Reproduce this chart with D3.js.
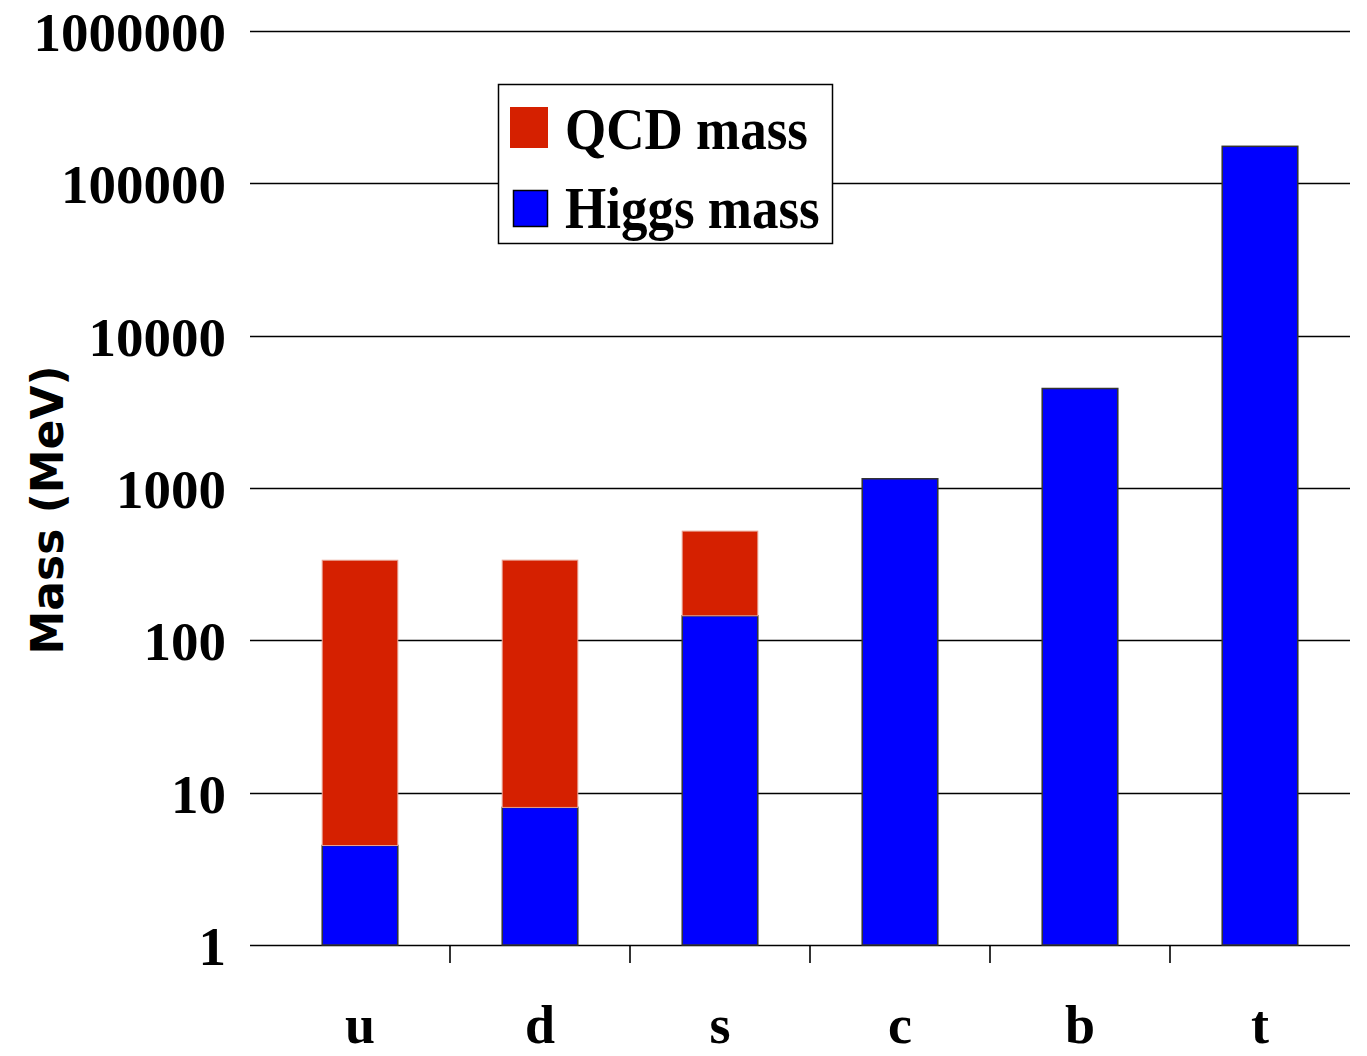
<!DOCTYPE html>
<html><head><meta charset="utf-8">
<script src="https://cdn.jsdelivr.net/npm/d3@7"></script>
<style>html,body{margin:0;padding:0;background:#fff}</style>
</head><body>
<script>
const categories = ["u","d","s","c","b","t"];
const higgsMass = [4.5, 8, 145, 1150, 4500, 175000];
const qcdMass = [331, 328, 376, 0, 0, 0];
const yTicks = [1, 10, 100, 1000, 10000, 100000, 1000000];
const seriesNames = ["QCD mass", "Higgs mass"];
const colors = {qcd: "#d52000", higgs: "#0000ff"};

const W = 1367, H = 1056;
const svg = d3.select("body").append("svg").attr("width", W).attr("height", H);

const y = d3.scaleLog().domain([1, 1e6]).range([945, 31]);
const x = d3.scaleBand().domain(categories).range([270, 1350]).paddingInner(0.58).paddingOuter(0.29);
const step = x.step();
const x0 = 270;

// gridlines
svg.append("g").selectAll("line").data(yTicks).join("line")
  .attr("x1", 250).attr("x2", 1350)
  .attr("y1", d => Math.round(y(d)) + 0.5).attr("y2", d => Math.round(y(d)) + 0.5)
  .attr("stroke", "#000").attr("stroke-width", 1.6);

// y tick labels
svg.append("g").selectAll("text").data(yTicks).join("text")
  .attr("x", 226).attr("y", d => y(d) + 20)
  .attr("text-anchor", "end")
  .attr("font-family", "Liberation Serif")
  .attr("font-weight", "bold")
  .attr("font-size", 55)
  .text(d => d);

// x ticks at band boundaries
const bounds = categories.slice(1).map((c, i) => x0 + step * (i + 1));
svg.append("g").selectAll("line").data(bounds).join("line")
  .attr("x1", d => d).attr("x2", d => d)
  .attr("y1", 945).attr("y2", 963)
  .attr("stroke", "#000").attr("stroke-width", 1.6);

// bars: higgs
const data = categories.map((c, i) => ({c, h: higgsMass[i], q: qcdMass[i]}));
svg.append("g").selectAll("rect").data(data).join("rect")
  .attr("x", d => x(d.c)).attr("width", x.bandwidth())
  .attr("y", d => y(d.h)).attr("height", d => y(1) - y(d.h))
  .attr("fill", colors.higgs).attr("stroke", "#333").attr("stroke-width", 1.5);

// bars: qcd stacked on top
svg.append("g").selectAll("rect").data(data.filter(d => d.q > 0)).join("rect")
  .attr("x", d => x(d.c)).attr("width", x.bandwidth())
  .attr("y", d => y(d.h + d.q)).attr("height", d => y(d.h) - y(d.h + d.q))
  .attr("fill", colors.qcd).attr("stroke", "#e8a090").attr("stroke-width", 1);

// x labels
svg.append("g").selectAll("text").data(categories).join("text")
  .attr("x", d => x(d) + x.bandwidth() / 2).attr("y", 1043)
  .attr("text-anchor", "middle")
  .attr("font-family", "Liberation Serif")
  .attr("font-weight", "bold")
  .attr("font-size", 54)
  .text(d => d);

// y axis title
svg.append("text")
  .attr("transform", "translate(63,510) rotate(-90)")
  .attr("text-anchor", "middle")
  .attr("font-family", "DejaVu Sans")
  .attr("font-weight", "bold")
  .attr("font-size", 44)
  .text("Mass (MeV)");

// legend
const lg = svg.append("g");
lg.append("rect").attr("x", 498.5).attr("y", 84.5).attr("width", 334).attr("height", 159)
  .attr("fill", "#fff").attr("stroke", "#000").attr("stroke-width", 1.5);
lg.append("rect").attr("x", 510).attr("y", 107).attr("width", 38).attr("height", 41)
  .attr("fill", colors.qcd);
lg.append("rect").attr("x", 513.5).attr("y", 190.5).attr("width", 34).attr("height", 36)
  .attr("fill", colors.higgs).attr("stroke", "#000").attr("stroke-width", 1.5);
lg.selectAll("text").data(seriesNames).join("text")
  .attr("transform", (d, i) => `translate(565,${i === 0 ? 149 : 228}) scale(1,1.1)`)
  .attr("font-family", "Liberation Serif")
  .attr("font-weight", "bold")
  .attr("font-size", 53)
  .text(d => d);
</script>
</body></html>
